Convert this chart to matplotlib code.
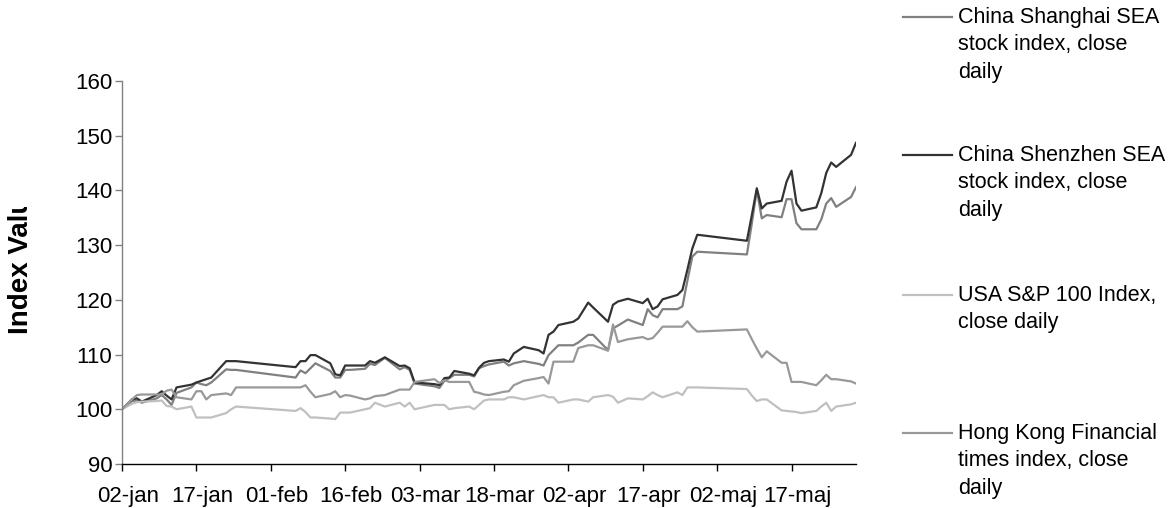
import numpy as np
import matplotlib
matplotlib.use("Agg")
import matplotlib.pyplot as plt
from matplotlib.lines import Line2D
from matplotlib import font_manager
from matplotlib.transforms import Bbox, ScaledTranslation

# ---------------- data ----------------
dates = [
    "2006-01-02", "2006-01-04", "2006-01-05", "2006-01-06", "2006-01-09", "2006-01-10",
    "2006-01-11", "2006-01-12", "2006-01-13", "2006-01-16", "2006-01-17", "2006-01-18",
    "2006-01-19", "2006-01-20", "2006-01-23", "2006-01-24", "2006-01-25",
    "2006-02-06", "2006-02-07", "2006-02-08", "2006-02-09", "2006-02-10", "2006-02-13",
    "2006-02-14", "2006-02-15", "2006-02-16", "2006-02-17", "2006-02-20", "2006-02-21",
    "2006-02-22", "2006-02-24", "2006-02-27", "2006-02-28",
    "2006-03-01", "2006-03-02", "2006-03-06", "2006-03-07", "2006-03-08", "2006-03-09",
    "2006-03-10", "2006-03-13", "2006-03-14", "2006-03-15", "2006-03-16", "2006-03-17",
    "2006-03-20", "2006-03-21", "2006-03-22", "2006-03-24", "2006-03-27", "2006-03-28",
    "2006-03-29", "2006-03-30", "2006-03-31",
    "2006-04-03", "2006-04-04", "2006-04-06", "2006-04-07", "2006-04-10", "2006-04-11",
    "2006-04-12", "2006-04-14", "2006-04-17", "2006-04-18", "2006-04-19", "2006-04-20",
    "2006-04-21", "2006-04-24", "2006-04-25", "2006-04-26", "2006-04-27", "2006-04-28",
    "2006-05-08", "2006-05-09", "2006-05-10", "2006-05-11", "2006-05-12", "2006-05-15",
    "2006-05-16", "2006-05-17", "2006-05-18", "2006-05-19", "2006-05-22", "2006-05-23",
    "2006-05-24", "2006-05-25", "2006-05-26", "2006-05-29", "2006-05-30",
]

shanghai = [
    100.0, 101.5, 101.6, 101.2, 102.0, 102.6,
    101.8, 100.8, 103.0, 104.0, 104.9, 104.6,
    104.4, 104.9, 107.3, 107.2, 107.2,
    105.8, 107.1, 106.6, 107.5, 108.4, 107.0,
    105.8, 105.8, 107.2, 107.2, 107.4, 108.3,
    108.1, 109.4, 107.3, 107.7,
    107.2, 104.7, 104.2, 103.9, 105.2, 105.7,
    106.3, 106.3, 106.0, 107.5, 107.9, 108.2,
    108.7, 108.0, 108.4, 108.8, 108.3, 108.0,
    109.9, 110.8, 111.7,
    111.7, 112.2, 113.6, 113.6, 110.8, 114.8,
    115.3, 116.4, 115.4, 118.3, 117.2, 116.8,
    118.3, 118.3, 118.8, 123.5, 127.9, 128.8,
    128.3, 134.0, 140.1, 134.9, 135.5, 135.1,
    138.4, 138.4, 134.0, 132.9, 132.9, 134.7,
    137.6, 138.6, 137.0, 138.8, 140.6,
]

shenzhen = [
    100.0, 101.8, 102.0, 101.4, 102.6, 103.3,
    102.5, 101.8, 104.0, 104.5, 104.9, 105.2,
    105.5, 105.8, 108.8, 108.8, 108.8,
    107.7, 108.8, 108.8, 109.9, 109.9, 108.4,
    106.4, 106.2, 108.0, 108.0, 108.0, 108.8,
    108.5, 109.5, 107.9, 108.0,
    107.5, 104.9, 104.6, 104.4, 105.7, 105.8,
    107.0, 106.5, 106.2, 107.6, 108.5, 108.8,
    109.1, 108.7, 110.2, 111.4, 110.8, 110.2,
    113.6, 114.2, 115.4,
    116.0, 116.6, 119.5, 118.6, 116.0, 119.1,
    119.7, 120.2, 119.4, 120.2, 118.3, 118.8,
    120.1, 120.9, 121.8, 125.5, 129.4, 131.9,
    130.8, 135.5, 140.4, 136.7, 137.6, 138.1,
    141.6, 143.6, 137.6, 136.3, 136.9, 139.5,
    143.2, 145.1, 144.3, 146.5, 148.7,
]

usa_sp100 = [
    100.0, 101.0, 101.3, 101.4, 101.5, 101.6,
    100.6, 100.5, 100.0, 100.5, 98.5, 98.5,
    98.5, 98.5, 99.3, 100.0, 100.5,
    99.7, 100.2, 99.5, 98.5, 98.5, 98.3,
    98.2, 99.4, 99.4, 99.4, 100.0, 100.2,
    101.2, 100.5, 101.2, 100.5,
    101.2, 100.0, 100.8, 100.8, 100.8, 100.0,
    100.2, 100.5, 100.0, 100.8, 101.6, 101.8,
    101.8, 102.2, 102.2, 101.8, 102.4, 102.6,
    102.2, 102.2, 101.2,
    101.8, 101.8, 101.4, 102.2, 102.6, 102.3,
    101.2, 102.0, 101.8, 102.4, 103.1, 102.6,
    102.2, 103.1, 102.6, 104.0, 104.0, 104.0,
    103.7, 102.5, 101.5, 101.8, 101.8, 99.8,
    99.7, 99.6, 99.5, 99.3, 99.7, 100.5,
    101.2, 99.7, 100.5, 100.9, 101.2,
]

hongkong = [
    100.0, 101.8, 102.6, 102.7, 102.7, 102.7,
    103.4, 103.6, 102.2, 101.8, 103.3, 103.3,
    101.8, 102.6, 102.9, 102.6, 104.0,
    104.0, 104.0, 104.4, 103.2, 102.2, 102.8,
    103.3, 102.2, 102.6, 102.5, 101.8, 102.0,
    102.4, 102.6, 103.6, 103.6,
    103.6, 105.0, 105.5, 104.8, 105.3, 105.0,
    105.0, 105.0, 103.2, 103.0, 102.7, 102.6,
    103.2, 103.3, 104.4, 105.2, 105.7, 105.9,
    104.7, 108.7, 108.7,
    108.7, 111.2, 111.7, 111.7, 110.7, 115.5,
    112.3, 112.8, 113.2, 112.8, 113.0, 114.0,
    115.1, 115.1, 115.1, 116.1, 115.0, 114.2,
    114.6, 112.8, 111.1, 109.5, 110.6, 108.5,
    108.5, 105.0, 105.0, 105.0, 104.4, 105.3,
    106.3, 105.5, 105.5, 105.1, 104.7,
]

series_names = [
    "China Shanghai SEA stock index, close daily",
    "China Shenzhen SEA stock index, close daily",
    "USA S&P 100 Index, close daily",
    "Hong Kong Financial times index, close daily",
]
legend_labels = [
    "China Shanghai SEA\nstock index, close\ndaily",
    "China Shenzhen SEA\nstock index, close\ndaily",
    "USA S&P 100 Index,\nclose daily",
    "Hong Kong Financial\ntimes index, close\ndaily",
]
series_colors = ["#808080", "#333333", "#c0c0c0", "#999999"]

tick_labels = ["02-jan", "17-jan", "01-feb", "16-feb", "03-mar",
               "18-mar", "02-apr", "17-apr", "02-maj", "17-maj"]
y_ticks = [90, 100, 110, 120, 130, 140, 150, 160]
y_label = "Index Value"

# ---------------- style ----------------
avail = {f.name for f in font_manager.fontManager.ttflist}
base_font = "Liberation Sans" if "Liberation Sans" in avail else "DejaVu Sans"
narrow = "Liberation Sans Narrow" in avail
plt.rcParams["font.family"] = base_font
txt_font = "Liberation Sans Narrow" if narrow else base_font
xt_size = 18 if narrow else 16
yt_size = 19 if narrow else 16
leg_size = 18.5 if narrow else 15.5
yl_size = 20

W, H, DPI = 1172, 508, 100
fig = plt.figure(figsize=(W / DPI, H / DPI), dpi=DPI)
fig.patch.set_facecolor("white")

ax_l, ax_r, ax_t, ax_b = 122, 856, 81, 464
ax = fig.add_axes([ax_l / W, 1 - ax_b / H, (ax_r - ax_l) / W, (ax_b - ax_t) / H])

x = np.array(dates, dtype="datetime64[D]")
all_series = [shanghai, shenzhen, usa_sp100, hongkong]
for vals, col, name in zip(all_series, series_colors, series_names):
    ax.plot(x, vals, color=col, lw=1.6, label=name, solid_joinstyle="round")

start = np.datetime64("2006-01-02")
tick_pos = [start + np.timedelta64(15 * i, "D") for i in range(len(tick_labels))]
ax.set_xticks(tick_pos)
ax.set_xticklabels(tick_labels, fontsize=xt_size, family=txt_font)
ax.set_xlim(start, x[-1])

ax.set_ylim(90, 160)
ax.set_yticks(y_ticks)
ax.set_yticklabels([str(v) for v in y_ticks], fontsize=yt_size, family=txt_font)

for s in ["top", "right"]:
    ax.spines[s].set_visible(False)
ax.spines["left"].set_color("#808080")
ax.spines["bottom"].set_color("#000000")
ax.spines["left"].set_linewidth(1.0)
ax.spines["bottom"].set_linewidth(1.0)
ax.tick_params(axis="x", direction="out", length=5, width=1, color="#000000", pad=11)
ax.tick_params(axis="y", direction="out", length=5, width=1, color="#808080", pad=2)

# shift x tick labels slightly to the right as in the reference
shift = ScaledTranslation(6 / DPI, 0, fig.dpi_scale_trans)
for lab in ax.get_xticklabels():
    lab.set_transform(lab.get_transform() + shift)

# clipped y-axis label (as in the reference)
yl = fig.text(21 / W, 1 - 334 / H, y_label, rotation=90, fontsize=yl_size,
              fontweight="bold", ha="center", va="bottom")
yl.set_clip_box(Bbox([[0, 0], [80, H - 207]]))
yl.set_clip_on(True)

# legend drawn at the right
leg_y = [17, 155, 295, 433]
for lab, col, yy in zip(legend_labels, series_colors, leg_y):
    fig.add_artist(Line2D([903 / W, 952 / W], [1 - yy / H, 1 - yy / H],
                          color=col, lw=1.6, transform=fig.transFigure))
    fig.text(958 / W, 1 - (yy - 10) / H, lab, fontsize=leg_size, ha="left", va="top",
             linespacing=1.4 if not narrow else 1.25, family=txt_font)

fig.savefig("out.png", dpi=DPI, facecolor="white")
